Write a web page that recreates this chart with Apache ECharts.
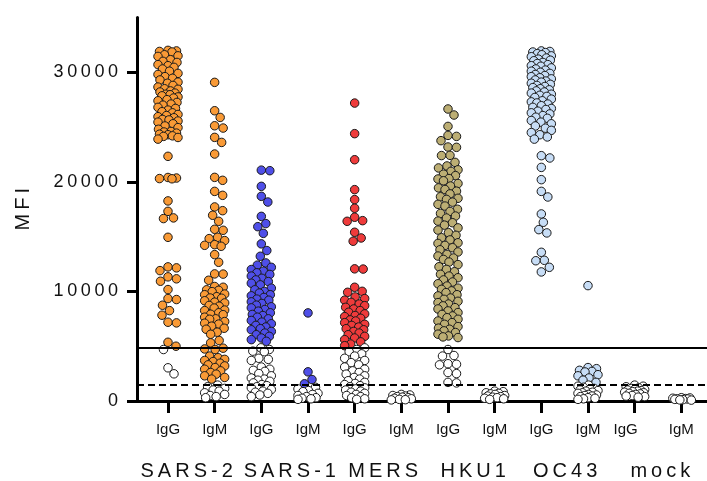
<!DOCTYPE html>
<html><head><meta charset="utf-8">
<script src="https://cdn.jsdelivr.net/npm/echarts@6/dist/echarts.min.js"></script>
<style>html,body{margin:0;padding:0;background:#fff}#main{width:707px;height:481px}</style>
</head><body><div id="main"></div>
<script>
// ---------- data ----------
const categories = ['IgG','IgM','IgG','IgM','IgG','IgM','IgG','IgM','IgG','IgM','IgG','IgM'];
const groups = ['SARS-2','SARS-1','MERS','HKU1','OC43','mock'];
const yTicks = [0, 10000, 20000, 30000];
const cutoffIgG = 4880;   // solid line
const cutoffIgM = 1500;   // dashed line

const sars2IgG = [32000,31950,31900,31850,31600,31500,31450,31150,31000,30900,30700,30600,30450,30300,30100,29900,29800,29600,29450,29300,29100,29000,28800,28650,28500,28450,28300,28200,28100,28000,27950,27850,27750,27650,27500,27400,27250,27100,27000,26800,26700,26550,26400,26300,26150,26050,25950,25850,25700,25650,25550,25450,25300,25100,24950,24800,24600,24550,24450,24350,24300,24200,24150,24050,23900,
22330,20400,20350,20300,20280,18260,17310,16710,16650,14940,12240,12150,11900,11330,11150,10930,10170,9350,9260,8740,8250,7830,7190,7130,5360,5000,4700,3030,2480];
const sars2IgM = [29080,26490,25880,25120,24910,24060,23600,22540,20410,20140,19130,18770,17710,17370,16950,16400,15670,15580,14940,14820,14640,14270,14210,14120,13360,12660,11600,11580,11020,
10450,10380,10150,10100,9980,9760,9700,9520,9400,9380,9150,9020,8950,8720,8650,8480,8300,8250,8050,7920,7880,7650,7500,7460,7250,7100,7020,6830,6640,6550,6280,6090,
5520,5310,4820,4750,4700,4100,3950,3800,3700,3600,3450,3300,3200,3050,2900,2750,2600,2450,2300,2150,2000,
1450,1300,1150,1000,900,750,600,500,400,300];
const sars1IgG = [21070,21020,19590,18680,18160,16850,16190,15910,15300,14340,13730,13210,12600,
12400,12200,12000,11850,11700,11550,11400,11200,11050,10900,10750,10600,
10300,10150,10000,9850,9700,9600,9450,9300,9200,9050,8900,8750,8600,8500,8350,8200,8050,7900,7800,7650,7500,7350,7200,7050,6900,6750,6600,6500,6350,6200,6050,5900,5750,5600,5450,
4850,4700,4550,4500,3900,3800,3700,3100,2900,2800,2700,2500,2300,2100,2000,1900,1800,1650,1500,1400,1300,1200,1050,900,800,700,550,400];
const sars1IgM = [8040,2660,1960,1570,1250,1100,950,850,700,600,500,400,300,250,200,150];
const mersIgG = [27190,24400,22020,19290,18380,17590,16770,16460,16400,15400,14880,14580,12060,12040,10380,10010,9920,
9500,9350,9200,9000,8850,8700,8550,8400,8250,8100,7950,7800,7700,7550,7400,7300,7150,7000,6900,6750,6600,6500,6350,6200,6050,5900,5750,5600,5400,5200,5050,
4850,4700,4500,4300,4100,3900,3700,3500,3300,3100,2900,2750,2600,2450,2300,2150,2000,1850,1700,1600,1500,1400,1300,1200,1100,1000,900,800,700,600,500,400,300,200,150];
const mersIgM = [600,550,500,450,400,350,300,250,200,150,120,100];
const hku1IgG = [26650,26100,25060,24240,24150,23760,23180,23150,22420,22400,21780,
21450,21270,21100,20960,20700,20570,20300,20260,20100,19850,19620,19450,19300,19150,18900,18640,18500,18400,18150,17950,17790,17500,17300,17120,16880,16700,16420,16270,16050,15800,15600,15360,15120,14900,14700,14440,14380,14200,13990,13800,13600,13380,13230,13050,12920,12680,12450,12250,12010,11800,11560,11400,11250,11050,10860,10700,10490,10300,10190,10050,9890,9700,9590,9400,9280,9100,8980,8850,8680,8520,8400,8220,8070,7900,7760,7600,7460,7300,7150,7000,6790,6650,6550,6400,6250,6100,5940,5850,5790,
4700,4150,4100,3400,3350,3300,2600,2500,1700,1650];
const hku1IgM = [900,850,750,700,650,600,500,450,400,350,300,250,200,150];
const oc43IgG = [31950,31900,31850,31800,31700,31600,31500,31420,31300,31200,31100,31050,30900,30800,30700,30600,30550,30400,30300,30200,30100,30000,29900,29800,29700,29600,29500,29400,29300,29200,29100,29000,28900,28800,28700,28600,28500,28400,28300,28200,28100,28000,27900,27800,27700,27550,27400,27300,27200,27100,26950,26800,26700,26600,26450,26300,26200,26050,25900,25800,25600,25450,25300,25100,24900,24700,24500,24300,24100,23900,
22390,22180,21320,20200,19130,18620,17070,16310,15640,15340,13570,12840,12800,12200,11780];
const oc43IgM = [10530,3050,2950,2800,2700,2650,2400,2300,2100,1900,1700,
1450,1350,1250,1150,1100,1000,950,900,800,750,700,600,550,500,450,400,300,250,200,150];
const mockIgG = [1450,1350,1300,1200,1150,1100,1050,1000,950,900,850,800,750,700,650,600,500,450,400,350];
const mockIgM = [300,280,250,220,200,180,150,120,100,80];

const seriesValues = [sars2IgG,sars2IgM,sars1IgG,sars1IgM,mersIgG,mersIgM,hku1IgG,hku1IgM,oc43IgG,oc43IgM,mockIgG,mockIgM];
const groupColors = ['#F99A36','#4F4FE8','#EF3B3B','#BCAE74','#C7DDF6','#FFFFFF'];

// ---------- layout ----------
const FONT = 'Liberation Sans';
const sp = s => String(s).split('').join('\u2009');
const XMIN = -0.664, XMAX = 11.55;
const catIdx = categories.map((c, i) => i);
const groupLabelPos = [0.40, 2.61, 4.61, 6.54, 8.51, 10.55];

const chart = echarts.init(document.getElementById('main'), null, {renderer: 'canvas'});
const baseOption = {
  animation: false,
  backgroundColor: '#fff',
  grid: {left: 137, right: 0, top: 17.5, bottom: 79.5, containLabel: false},
  xAxis: [{
    type: 'value', min: XMIN, max: XMAX, position: 'bottom',
    splitLine: {show: false},
    axisLine: {show: true, onZero: false, lineStyle: {color: '#000', width: 3}},
    axisTick: {show: true, length: 12, customValues: catIdx, lineStyle: {color: '#000', width: 3}},
    axisLabel: {
      customValues: catIdx, margin: 21, fontFamily: FONT, fontSize: 15, color: '#111',
      formatter: (v) => { const i = Math.round(v); return i === 10 ? '{s|' + categories[i] + '}' : categories[i]; },
      rich: {s: {fontFamily: FONT, fontSize: 15, color: '#111', padding: [0, 18, 0, 0]}}
    }
  }, {
    type: 'value', min: XMIN, max: XMAX, position: 'bottom',
    splitLine: {show: false}, axisLine: {show: false, onZero: false}, axisTick: {show: false},
    axisLabel: {
      customValues: groupLabelPos, margin: 60, fontFamily: FONT, fontSize: 20, color: '#111',
      formatter: (v) => sp(groups[groupLabelPos.findIndex(p => Math.abs(p - v) < 1e-6)])
    }
  }],
  yAxis: {
    type: 'value', min: 0, max: 35000,
    name: sp('MFI'), nameLocation: 'middle', nameGap: 104, nameRotate: 90,
    nameTextStyle: {fontFamily: FONT, fontSize: 20, color: '#111'},
    splitLine: {show: false},
    axisLine: {show: true, onZero: false, lineStyle: {color: '#000', width: 3}},
    axisTick: {show: true, length: 10, customValues: yTicks, lineStyle: {color: '#000', width: 3}},
    axisLabel: {customValues: yTicks, margin: 19, fontFamily: FONT, fontSize: 18, color: '#111', formatter: (v) => sp(v)}
  },
  series: []
};
chart.setOption(baseOption);

function swarmOffsets(pys, D, maxW) {
  const order = pys.map((y, i) => i).sort((a, b) => pys[a] - pys[b]);
  const placed = [];
  const off = new Array(pys.length);
  const cands = [0];
  for (let s = 0.5; s <= maxW; s += 0.5) cands.push(s, -s);
  for (const i of order) {
    const y = pys[i];
    const near = placed.filter(p => Math.abs(p[1] - y) < D);
    let best = 0, bestScore = -1;
    for (const c of cands) {
      let md = Infinity;
      for (const p of near) { const d = Math.hypot(p[0] - c, p[1] - y); if (d < md) md = d; }
      if (md >= D) { best = c; break; }
      if (md > bestScore + 0.01) { bestScore = md; best = c; }
    }
    off[i] = best;
    placed.push([best, y]);
  }
  return off;
}

const unitPx = chart.convertToPixel({xAxisIndex: 0}, 1) - chart.convertToPixel({xAxisIndex: 0}, 0);
const series = [{
  type: 'scatter', data: [], z: 1, silent: true,
  markLine: {
    silent: true, symbol: 'none', label: {show: false}, animation: false,
    lineStyle: {color: '#000', width: 2},
    data: [
      {yAxis: cutoffIgG, lineStyle: {type: 'solid', color: '#000', width: 2}},
      {yAxis: cutoffIgM, lineStyle: {type: [7, 4], color: '#000', width: 2}}
    ]
  }
}];
seriesValues.forEach((vals, idx) => {
  const pys = vals.map(v => chart.convertToPixel({yAxisIndex: 0}, v));
  const offs = swarmOffsets(pys, 8.5, 10);
  const isIgG = categories[idx] === 'IgG';
  const cut = isIgG ? cutoffIgG : cutoffIgM;
  const col = groupColors[Math.floor(idx / 2)];
  series.push({
    type: 'scatter', z: 3, symbol: 'circle', symbolSize: 8.5,
    itemStyle: {borderColor: '#1a1a1a', borderWidth: 1, opacity: 1},
    data: vals.map((v, k) => ({
      value: [idx + offs[k] / unitPx, v],
      itemStyle: {color: v > cut ? col : '#FFFFFF'}
    }))
  });
});
chart.setOption({series: series});
</script>
</body></html>
